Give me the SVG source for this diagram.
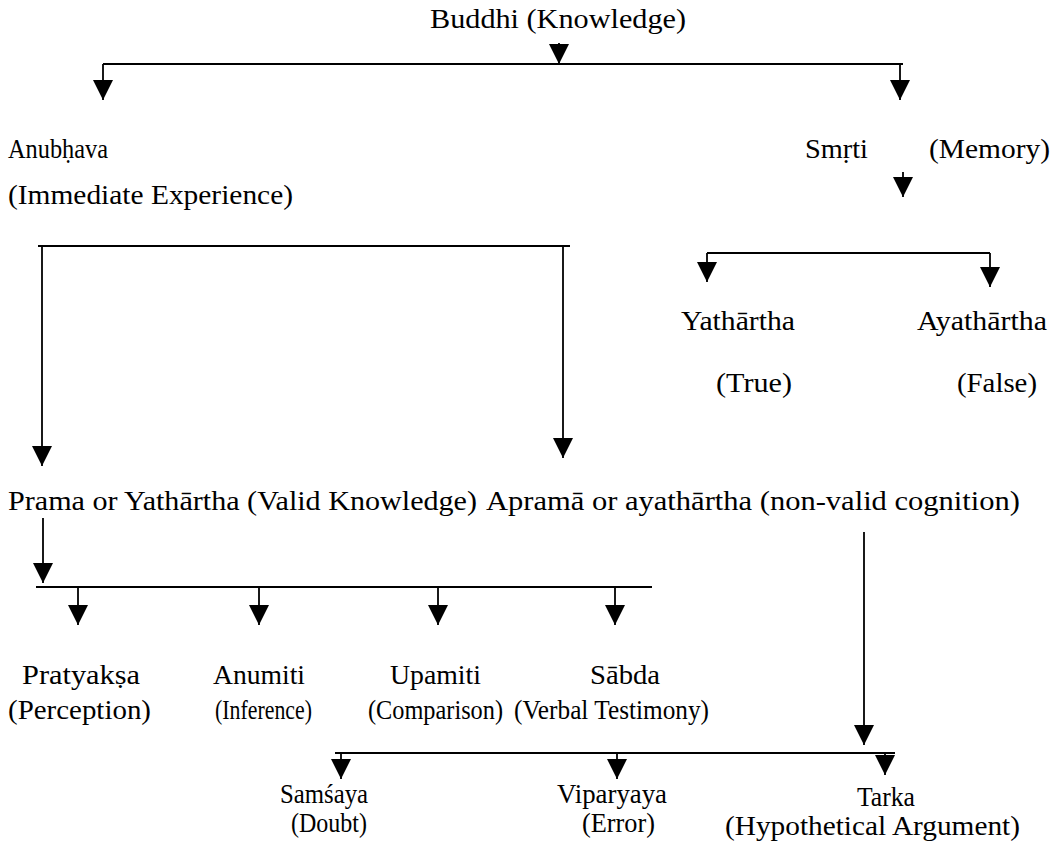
<svg xmlns="http://www.w3.org/2000/svg" width="1059" height="851" viewBox="0 0 1059 851">
<style>
text{font-family:"Liberation Serif","Times New Roman",serif;font-size:27px;fill:#000}
.c line{stroke:#000;stroke-width:1.8;fill:none}
</style>
<defs>
<marker id="ah" markerUnits="userSpaceOnUse" markerWidth="20" markerHeight="20" viewBox="0 0 20 20" refX="20" refY="10" orient="auto">
<path d="M0,0 L20,10 L0,20 z" fill="#000"/>
</marker>
</defs>
<rect width="1059" height="851" fill="#fff"/>
<g class="c" id="connectors">
<line x1="559" y1="43" x2="559" y2="64" marker-end="url(#ah)"/>
<line x1="103" y1="64" x2="903" y2="64"/>
<line x1="103" y1="64" x2="103" y2="100" marker-end="url(#ah)"/>
<line x1="900" y1="64" x2="900" y2="100" marker-end="url(#ah)"/>
<line x1="903" y1="172" x2="903" y2="197" marker-end="url(#ah)"/>
<line x1="707" y1="253" x2="990" y2="253"/>
<line x1="707" y1="253" x2="707" y2="282" marker-end="url(#ah)"/>
<line x1="990" y1="253" x2="990" y2="287" marker-end="url(#ah)"/>
<line x1="38" y1="246" x2="570" y2="246"/>
<line x1="42" y1="246" x2="42" y2="466" marker-end="url(#ah)"/>
<line x1="563" y1="246" x2="563" y2="458" marker-end="url(#ah)"/>
<line x1="43" y1="518" x2="43" y2="583" marker-end="url(#ah)"/>
<line x1="36" y1="587" x2="652" y2="587"/>
<line x1="78" y1="587" x2="78" y2="625" marker-end="url(#ah)"/>
<line x1="259" y1="587" x2="259" y2="625" marker-end="url(#ah)"/>
<line x1="438" y1="587" x2="438" y2="625" marker-end="url(#ah)"/>
<line x1="615" y1="587" x2="615" y2="625" marker-end="url(#ah)"/>
<line x1="864" y1="532" x2="864" y2="745" marker-end="url(#ah)"/>
<line x1="335" y1="753" x2="895" y2="753"/>
<line x1="341" y1="753" x2="341" y2="779" marker-end="url(#ah)"/>
<line x1="617" y1="753" x2="617" y2="779" marker-end="url(#ah)"/>
<line x1="885" y1="753" x2="885" y2="775" marker-end="url(#ah)"/>
</g>
<g id="buddhi"><text x="430" y="28" textLength="256" lengthAdjust="spacingAndGlyphs">Buddhi (Knowledge)</text></g>
<g id="anubhava">
<text x="8" y="158" textLength="100" lengthAdjust="spacingAndGlyphs">Anubḥava</text>
<text x="8" y="204" textLength="285" lengthAdjust="spacingAndGlyphs">(Immediate Experience)</text>
</g>
<g id="smrti">
<text x="805" y="158" textLength="63" lengthAdjust="spacingAndGlyphs">Smṛti</text>
<text x="929" y="158" textLength="121" lengthAdjust="spacingAndGlyphs">(Memory)</text>
</g>
<g id="yathartha">
<text x="681" y="330" textLength="114" lengthAdjust="spacingAndGlyphs">Yathārtha</text>
<text x="716" y="392" textLength="76" lengthAdjust="spacingAndGlyphs">(True)</text>
</g>
<g id="ayathartha">
<text x="917" y="330" textLength="130" lengthAdjust="spacingAndGlyphs">Ayathārtha</text>
<text x="957" y="392" textLength="80" lengthAdjust="spacingAndGlyphs">(False)</text>
</g>
<g id="prama"><text x="8" y="510" textLength="469" lengthAdjust="spacingAndGlyphs">Prama or Yathārtha (Valid Knowledge)</text></g>
<g id="aprama"><text x="486" y="510" textLength="534" lengthAdjust="spacingAndGlyphs">Apramā or ayathārtha (non-valid cognition)</text></g>
<g id="pratyaksa">
<text x="22" y="684" textLength="118" lengthAdjust="spacingAndGlyphs">Pratyakṣa</text>
<text x="8" y="719" textLength="143" lengthAdjust="spacingAndGlyphs">(Perception)</text>
</g>
<g id="anumiti">
<text x="213" y="684" textLength="92" lengthAdjust="spacingAndGlyphs">Anumiti</text>
<text x="215" y="719" textLength="97" lengthAdjust="spacingAndGlyphs">(Inference)</text>
</g>
<g id="upamiti">
<text x="390" y="684" textLength="91" lengthAdjust="spacingAndGlyphs">Upamiti</text>
<text x="368" y="719" textLength="135" lengthAdjust="spacingAndGlyphs">(Comparison)</text>
</g>
<g id="sabda">
<text x="590" y="684" textLength="70" lengthAdjust="spacingAndGlyphs">Sābda</text>
<text x="514" y="719" textLength="195" lengthAdjust="spacingAndGlyphs">(Verbal Testimony)</text>
</g>
<g id="samsaya">
<text x="280" y="803" textLength="88" lengthAdjust="spacingAndGlyphs">Samśaya</text>
<text x="291" y="832" textLength="76" lengthAdjust="spacingAndGlyphs">(Doubt)</text>
</g>
<g id="viparyaya">
<text x="557" y="803" textLength="110" lengthAdjust="spacingAndGlyphs">Viparyaya</text>
<text x="582" y="832" textLength="73" lengthAdjust="spacingAndGlyphs">(Error)</text>
</g>
<g id="tarka">
<text x="857" y="806" textLength="58" lengthAdjust="spacingAndGlyphs">Tarka</text>
<text x="725" y="835" textLength="295" lengthAdjust="spacingAndGlyphs">(Hypothetical Argument)</text>
</g>
</svg>
